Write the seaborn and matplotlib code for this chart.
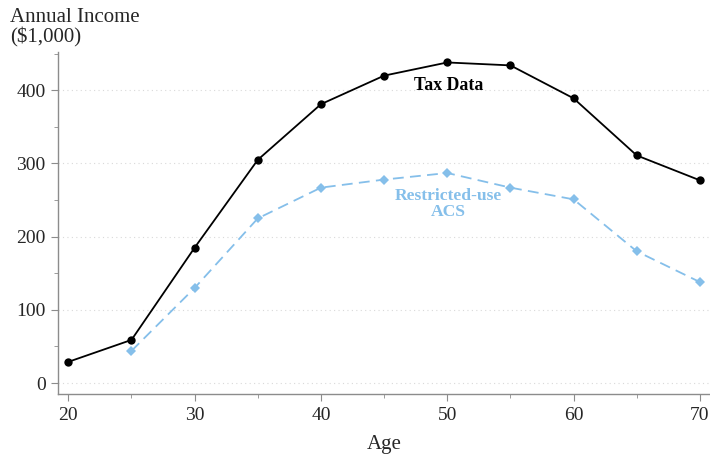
import numpy as np
import pandas as pd
import seaborn as sns
import matplotlib.pyplot as plt
from matplotlib.ticker import MultipleLocator

# values
ages = [20, 25, 30, 35, 40, 45, 50, 55, 60, 65, 70]
tax_income = [29, 59, 185, 305, 381, 420, 438, 434, 389, 311, 277]
acs_ages = [25, 30, 35, 40, 45, 50, 55, 60, 65, 70]
acs_income = [44, 130, 225, 267, 278, 287, 267, 251, 180, 138]

tax_df = pd.DataFrame({"age": ages, "income": tax_income})
acs_df = pd.DataFrame({"age": acs_ages, "income": acs_income})

sns.set_style("ticks")
plt.rcParams['font.family'] = ['Liberation Serif', 'DejaVu Serif']

blue = '#85BFEA'
grey = '#8c8c8c'

fig = plt.figure(figsize=(7.1, 4.54), dpi=100)
ax = fig.add_axes([0.082, 0.132, 0.918, 0.753])

sns.lineplot(data=tax_df, x="age", y="income", ax=ax, color='black',
             marker='o', markersize=6, markeredgewidth=0, linewidth=1.3)
sns.lineplot(data=acs_df, x="age", y="income", ax=ax, color=blue,
             marker='D', markersize=5.5, markeredgewidth=0, linewidth=1.3,
             linestyle=(0, (6, 3.5)))

ax.set_xlim(19.2, 70.8)
ax.set_ylim(-15, 452)
ax.set_xticks([20, 30, 40, 50, 60, 70])
ax.set_yticks([0, 100, 200, 300, 400])
ax.xaxis.set_minor_locator(MultipleLocator(5))
ax.yaxis.set_minor_locator(MultipleLocator(50))
ax.tick_params(axis='both', which='major', labelsize=14, color=grey, length=5, pad=4)
ax.tick_params(axis='both', which='minor', color=grey, length=3)
ax.grid(axis='y', which='major', color='#d9d9d9', linestyle=(0, (1, 3)), linewidth=0.8)

for side in ['top', 'right']:
    ax.spines[side].set_visible(False)
for side in ['left', 'bottom']:
    ax.spines[side].set_color(grey)
    ax.spines[side].set_linewidth(1.0)

ax.set_xlabel("Age", fontsize=15, labelpad=8)
ax.set_ylabel("")
fig.text(0.014, 0.983, "Annual Income\n($1,000)", fontsize=15, ha='left', va='top',
         linespacing=1.05)

ax.text(50.1, 407, "Tax Data", fontsize=12.8, fontweight='bold', ha='center',
        va='center', color='black')
ax.text(50.1, 244, "Restricted-use\nACS", fontsize=12.6, fontweight='bold',
        ha='center', va='center', color=blue, linespacing=1.0)

fig.savefig("out.png", dpi=100)
